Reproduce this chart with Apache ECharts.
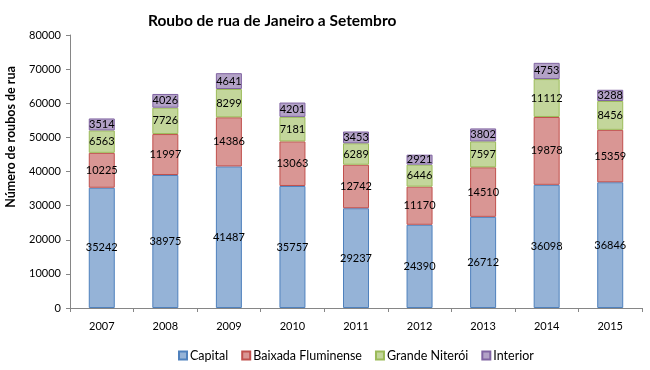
<!DOCTYPE html>
<html>
<head>
<meta charset="utf-8">
<script src="https://cdn.jsdelivr.net/npm/echarts@6/dist/echarts.min.js"></script>
<style>html,body{margin:0;padding:0;background:#fff}#c{width:650px;height:370px}</style>
</head>
<body>
<div id="c"></div>
<script>
const categories = ['2007','2008','2009','2010','2011','2012','2013','2014','2015'];
const capital = [35242, 38975, 41487, 35757, 29237, 24390, 26712, 36098, 36846];
const baixada = [10225, 11997, 14386, 13063, 12742, 11170, 14510, 19878, 15359];
const niteroi = [6563, 7726, 8299, 7181, 6289, 6446, 7597, 11112, 8456];
const interior = [3514, 4026, 4641, 4201, 3453, 2921, 3802, 4753, 3288];
const seriesNames = ['Capital', 'Baixada Fluminense', 'Grande Niterói', 'Interior'];
const yTicks = { min: 0, max: 80000, interval: 10000 };

const fills = ['#95B3D7', '#D99694', '#C3D69B', '#B3A2C7'];
const borders = ['#4F81BD', '#C0504D', '#9BBB59', '#8064A2'];
const font = 'Lato, "Open Sans", sans-serif';

const chart = echarts.init(document.getElementById('c'), null, { renderer: 'canvas' });
const datas = [capital, baixada, niteroi, interior];
chart.setOption({
  animation: false,
  title: {
    text: 'Roubo de rua de Janeiro a Setembro',
    left: 143, top: 8,
    textStyle: { fontFamily: font, fontWeight: 'bold', fontSize: 15.5, color: '#000' }
  },
  legend: {
    bottom: 3, left: 173,
    itemWidth: 8, itemHeight: 8, itemGap: 13,
    icon: 'rect',
    textStyle: { fontFamily: font, fontSize: 12.5, color: '#000', padding: [0, 0, 0, -2] },
    data: seriesNames
  },
  graphic: [{
    type: 'text',
    x: 4, y: 137,
    rotation: Math.PI / 2,
    style: {
      text: 'Número de roubos de rua',
      fontFamily: font, fontWeight: 'bold', fontSize: 12.5, fill: '#000',
      align: 'center', verticalAlign: 'top'
    }
  }],
  grid: { left: 70, right: 8, top: 35, bottom: 62, containLabel: false },
  xAxis: {
    type: 'category', data: categories,
    axisLine: { lineStyle: { color: '#868686', width: 1 } },
    axisTick: { show: true, length: 4, lineStyle: { color: '#868686' } },
    axisLabel: { fontFamily: font, fontSize: 11, color: '#000', margin: 13 }
  },
  yAxis: {
    type: 'value', min: yTicks.min, max: yTicks.max, interval: yTicks.interval,
    axisLine: { show: true, lineStyle: { color: '#868686', width: 1 } },
    axisTick: { show: true, length: 4, lineStyle: { color: '#868686' } },
    splitLine: { show: false },
    axisLabel: { fontFamily: font, fontSize: 11, color: '#000', margin: 9, formatter: v => String(v) }
  },
  series: datas.map((d, i) => ({
    name: seriesNames[i],
    type: 'bar',
    stack: 'total',
    barWidth: 26,
    data: d,
    itemStyle: { color: fills[i], borderColor: borders[i], borderWidth: 1 },
    label: {
      show: true, position: 'inside',
      fontFamily: font, fontSize: 11, color: '#000'
    }
  }))
});
</script>
</body>
</html>
